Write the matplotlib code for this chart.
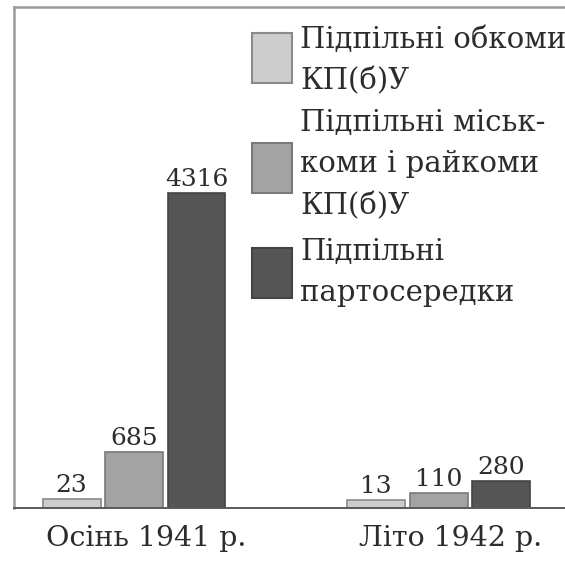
import numpy as np
import matplotlib.pyplot as plt
from matplotlib.patches import Rectangle
from matplotlib.transforms import ScaledTranslation

# data
periods = ['Осінь 1941 р.', 'Літо 1942 р.']
series_names = ['Підпільні обкоми\nКП(б)У',
                'Підпільні міськ-\nкоми і райкоми\nКП(б)У',
                'Підпільні\nпартосередки']
obkomy = [23, 13]
miskkomy = [685, 110]
partoseredky = [4316, 280]

fill_colors = ['#cdcdcd', '#a3a3a3', '#555555']
edge_colors = ['#8a8a8a', '#7a7a7a', '#444444']
text_color = '#2c2c2c'

W, H = 565, 561
fig = plt.figure(figsize=(W / 100, H / 100), dpi=100)
fig.patch.set_facecolor('white')

# axes placed to match the frame in the picture
ax = fig.add_axes([14 / W, (H - 508) / H, 1 - 14 / W, (508 - 7) / H])

base = -105  # bars start below zero so the small ones stay visible
x = np.arange(len(periods))
offset = 0.205
width = 0.19

for i, vals in enumerate([obkomy, miskkomy, partoseredky]):
    vals = np.array(vals)
    xs = x + (i - 1) * offset
    ax.bar(xs, vals - base, bottom=base, width=width,
           color=fill_colors[i], edgecolor=edge_colors[i], linewidth=1.2)
    for xi, v in zip(xs, vals):
        ax.annotate(str(v), (xi, v), xytext=(0, 5), textcoords='offset points',
                    ha='center', va='baseline', fontsize=18,
                    family='DejaVu Serif', color=text_color)

ax.set_xlim(-0.394, 1.415)
ax.set_ylim(base, 6931)

ax.set_yticks([])
ax.set_xticks(x)
ax.set_xticklabels(periods, fontsize=20.5, family='DejaVu Serif', color=text_color)
ax.tick_params(axis='x', length=0, pad=12)
shift = ScaledTranslation(12 / 100, 0, fig.dpi_scale_trans)
for lab in ax.get_xticklabels():
    lab.set_transform(lab.get_transform() + shift)

ax.spines['right'].set_visible(False)
ax.spines['top'].set_color('#9a9a9a')
ax.spines['left'].set_color('#9a9a9a')
ax.spines['top'].set_linewidth(1.8)
ax.spines['left'].set_linewidth(1.8)
ax.spines['bottom'].set_color('#5a5a5a')
ax.spines['bottom'].set_linewidth(1.4)

# legend drawn by hand: swatch on the left, wrapped text on the right
swatch_tops = [33, 143, 248]
text_centers = [60.5, 164.5, 272.5]
for i, name in enumerate(series_names):
    top = swatch_tops[i]
    fig.patches.append(Rectangle((252 / W, 1 - (top + 50) / H), 40 / W, 50 / H,
                                 transform=fig.transFigure,
                                 facecolor=fill_colors[i], edgecolor=edge_colors[i],
                                 linewidth=1.5))
    fig.text(300 / W, 1 - text_centers[i] / H, name, ha='left', va='center',
             fontsize=21, family='DejaVu Serif', color=text_color,
             linespacing=1.6)

fig.savefig('out.png', dpi=100)
